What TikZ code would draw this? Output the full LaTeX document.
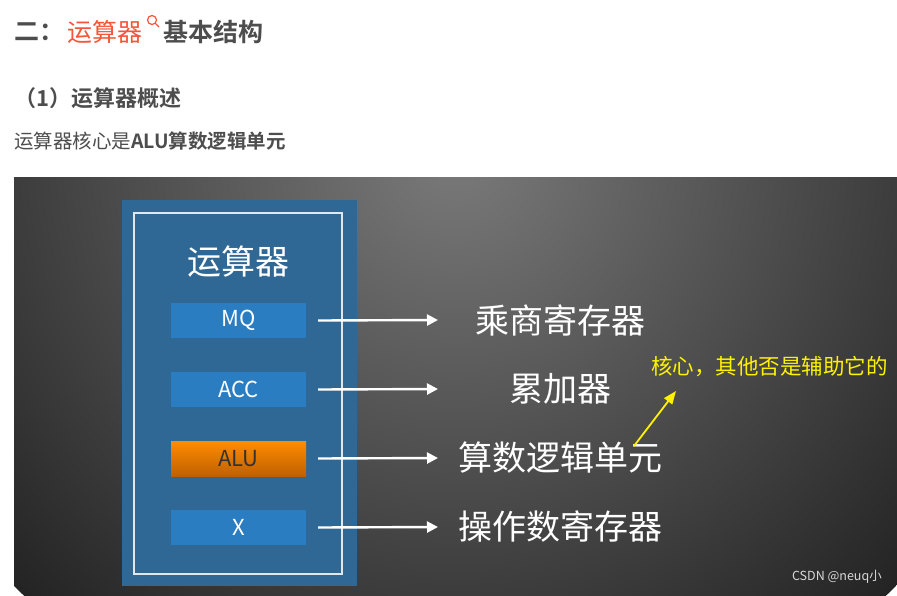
\documentclass[tikz,border=0pt]{standalone}
\usepackage{fontspec}
\setmainfont{Noto Sans CJK SC}
\newfontfamily\cjkb{Noto Sans CJK SC Bold}
\usetikzlibrary{arrows.meta}
\definecolor{txt}{HTML}{4D4D4D}
\definecolor{red1}{HTML}{F5553B}
\definecolor{panelblue}{HTML}{2F6895}
\definecolor{btnblue}{HTML}{2A7DC0}
\begin{document}
\begin{tikzpicture}[x=1pt,y=-1pt,
  btn/.style={minimum width=135pt,minimum height=35pt,inner sep=0pt,text=white,font=\fontsize{22}{22}\selectfont},
  lab/.style={text=white,font=\fontsize{34}{34}\selectfont,inner sep=0pt},
  arr/.style={white,line width=2.4pt,-{Triangle[length=11pt,width=11pt]}}]
\useasboundingbox (0,0) rectangle (897,595);
\fill[white] (0,0) rectangle (897,595);
% heading
\node[anchor=west,inner sep=0pt,text=txt,font=\cjkb\fontsize{25}{25}\selectfont] (h1) at (14,32) {二：};
\node[anchor=west,inner sep=0pt,text=red1,font=\fontsize{25}{25}\selectfont] (h2) at (67,32) {运算器};
\draw[red1,line width=1.2pt] (152,20) circle (4.5pt) (155.2,23.2) -- (159,27);
\node[anchor=west,inner sep=0pt,text=txt,font=\cjkb\fontsize{25}{25}\selectfont] (h3) at (163,32) {基本结构};
\node[anchor=west,inner sep=0pt,text=txt,font=\cjkb\fontsize{22}{22}\selectfont] (s1) at (14,98) {（1）运算器概述};
\node[anchor=west,inner sep=0pt,text=txt,font=\fontsize{19.5}{19.5}\selectfont] (s2) at (14,141) {运算器核心是{\cjkb ALU算数逻辑单元}};
% panel
\begin{scope}
\clip (14,177) rectangle (897,595);
\shade[inner color=black!52, outer color=black!86] (455,150) circle (620pt);
\end{scope}
\fill[panelblue] (122,200) rectangle (357,586);
\draw[white!85!panelblue,line width=1.3pt] (134,213) rectangle (342,574);
\node[lab] (title) at (238,262) {运算器};
\node[btn,fill=btnblue] (mq) at (238.5,320.5) {MQ};
\node[btn,fill=btnblue] (acc) at (238.5,389.5) {ACC};
\node[btn,top color=orange!90!yellow,bottom color=orange!75!black,text=black!80] (alu) at (238.5,458.5) {ALU};
\node[btn,fill=btnblue] (x) at (238.5,527.5) {X};
\node[lab] (l1) at (560,320) {乘商寄存器};
\node[lab] (l2) at (560,389) {累加器};
\node[lab] (l3) at (560,458) {算数逻辑单元};
\node[lab] (l4) at (560,527) {操作数寄存器};
\coordinate (e1) at (438,320); \coordinate (e2) at (438,389);
\coordinate (e3) at (438,458); \coordinate (e4) at (438,527);
\draw[arr] (mq.east)++(12,0) -- (e1);
\draw[arr] (acc.east)++(12,0) -- (e2);
\draw[arr] (alu.east)++(12,0) -- (e3);
\draw[arr] (x.east)++(12,0) -- (e4);
\node[anchor=west,inner sep=0pt,text=yellow,font=\fontsize{21.5}{21.5}\selectfont] (note) at (651,367) {核心，其他否是辅助它的};
\coordinate (ys) at (634,446);
\coordinate (ye) at (676,391);
\draw[yellow,line width=1.8pt,-{Triangle[length=13pt,width=10pt]}] (ys) -- (ye);
\node[anchor=east,inner sep=0pt,text=white!85!black,font=\fontsize{12.5}{12.5}\selectfont] (wm) at (882,577) {CSDN @neuq小};
\end{tikzpicture}
\end{document}
